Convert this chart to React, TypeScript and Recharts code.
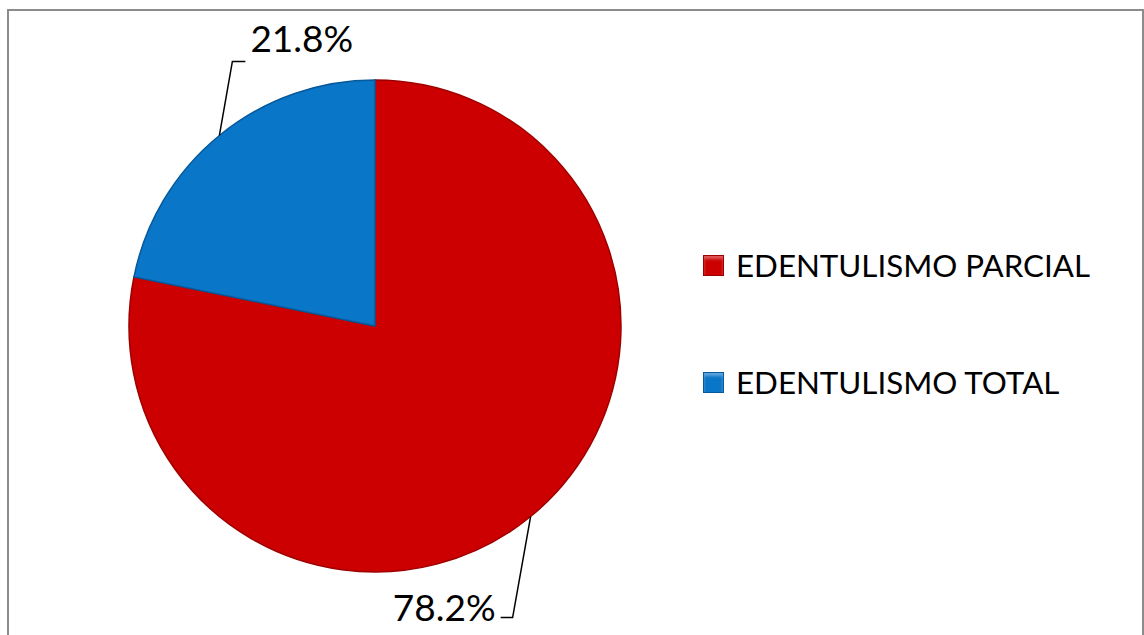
import React from "react"
import { PieChart, Pie, Cell, Legend } from "recharts"

const categories = ["EDENTULISMO PARCIAL", "EDENTULISMO TOTAL"]
const percentages = [78.2, 21.8]
const colors = ["#cc0000", "#0a76c8"]
const edgeColors = ["#9e0000", "#07599a"]

const data = categories.map((name, i) => ({ name, value: percentages[i] }))

const FONT = "Lato, 'Open Sans', sans-serif"
const RAD = Math.PI / 180

function renderLabel(props: any) {
  const { cx, cy, midAngle, outerRadius, value, index } = props
  const sx = cx + outerRadius * Math.cos(-midAngle * RAD)
  const sy = cy + outerRadius * Math.sin(-midAngle * RAD)
  // elbow lines like the Excel leader lines
  if (index === 0) {
    const ex = sx - 18
    const ey = sy + 101
    const hx = ex - 12
    return (
      <g>
        <polyline
          points={`${sx},${sy} ${ex},${ey} ${hx},${ey}`}
          fill="none"
          stroke="#000"
          strokeWidth={1.5}
        />
        <text
          x={hx - 5}
          y={ey - 6}
          textAnchor="end"
          dominantBaseline="middle"
          fontFamily={FONT}
          fontSize={37}
          fill="#000"
        >
          {`${value.toFixed(1)}%`}
        </text>
      </g>
    )
  }
  const ex = sx + 13
  const ey = sy - 74
  const hx = ex + 13
  return (
    <g>
      <polyline
        points={`${sx},${sy} ${ex},${ey} ${hx},${ey}`}
        fill="none"
        stroke="#000"
        strokeWidth={1.5}
      />
      <text
        x={hx + 5}
        y={ey - 19}
        textAnchor="start"
        dominantBaseline="middle"
        fontFamily={FONT}
        fontSize={37}
        fill="#000"
      >
        {`${value.toFixed(1)}%`}
      </text>
    </g>
  )
}

function renderLegend() {
  return (
    <div style={{ fontFamily: FONT, fontSize: 31.3, color: "#000" }}>
      {categories.map((name, i) => (
        <div
          key={name}
          style={{
            display: "flex",
            alignItems: "center",
            height: 40,
            marginBottom: i === 0 ? 77 : 0,
          }}
        >
          <span
            style={{
              display: "inline-block",
              width: 19,
              height: 19,
              background: colors[i],
              border: `1px solid ${edgeColors[i]}`,
              boxShadow: "inset 0 3px 3px rgba(255,255,255,0.35)",
              marginRight: 12,
            }}
          />
          <span>{name}</span>
        </div>
      ))}
    </div>
  )
}

export default function App() {
  return (
    <div
      style={{
        position: "absolute",
        left: 0,
        top: 0,
        width: 1144,
        height: 635,
        overflow: "hidden",
        background: "#fff",
      }}
    >
      <div
        style={{
          position: "absolute",
          left: 7,
          top: 9,
          width: 1133,
          height: 700,
          border: "2px solid #8c8c8c",
        }}
      />
      <PieChart
        width={1144}
        height={635}
        margin={{ top: 0, right: 0, bottom: 0, left: 0 }}
        style={{ position: "absolute", left: 0, top: 0 }}
      >
        <Pie
          data={data}
          dataKey="value"
          nameKey="name"
          cx={375}
          cy={326}
          outerRadius={246}
          startAngle={90}
          endAngle={-270}
          label={renderLabel}
          labelLine={false}
          isAnimationActive={false}
        >
          {data.map((d, i) => (
            <Cell key={d.name} fill={colors[i]} stroke={edgeColors[i]} strokeWidth={1.5} />
          ))}
        </Pie>
        <Legend
          content={renderLegend}
          wrapperStyle={{ position: "absolute", left: 703, top: 245, width: 430 }}
        />
      </PieChart>
    </div>
  )
}
